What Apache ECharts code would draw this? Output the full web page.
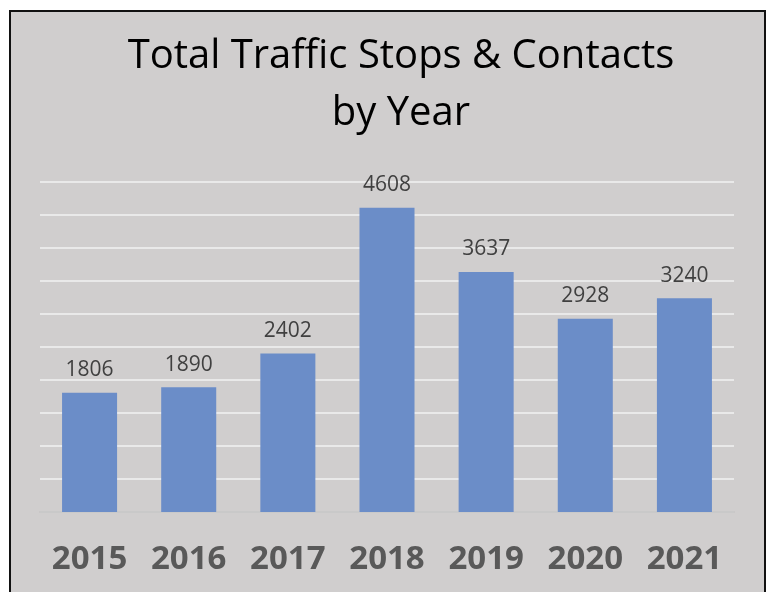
<!DOCTYPE html>
<html>
<head>
<meta charset="utf-8">
<script src="https://cdn.jsdelivr.net/npm/echarts@6/dist/echarts.min.js"></script>
<style>
  html, body { margin: 0; padding: 0; background: #fff; overflow: hidden; }
  #frame {
    position: absolute; left: 9px; top: 10px; width: 757px; height: 620px;
    box-sizing: border-box; border: 2px solid #111; background: #d0cece;
  }
  #main { width: 753px; height: 580px; }
</style>
</head>
<body>
<div id="frame"><div id="main"></div></div>
<script>
// values
const years = ['2015', '2016', '2017', '2018', '2019', '2020', '2021'];
const stops = [1806, 1890, 2402, 4608, 3637, 2928, 3240];

const chart = echarts.init(document.getElementById('main'));
chart.setOption({
  backgroundColor: 'transparent',
  title: {
    text: 'Total Traffic Stops & Contacts\nby Year',
    left: 385,
    textAlign: 'center',
    top: 11,
    textStyle: {
      fontFamily: 'Open Sans',
      fontWeight: 'normal',
      fontSize: 40,
      lineHeight: 57,
      color: '#000'
    }
  },
  grid: { left: 29, right: 30, top: 170, height: 330 },
  xAxis: {
    type: 'category',
    data: years,
    axisTick: { show: false },
    axisLine: { lineStyle: { color: '#bfbfbf', width: 1.5 } },
    axisLabel: {
      margin: 31,
      fontFamily: 'Open Sans',
      fontWeight: 'bold',
      fontSize: 33,
      color: '#595959'
    }
  },
  yAxis: {
    type: 'value',
    min: 0,
    max: 5000,
    interval: 500,
    axisLabel: { show: false },
    axisLine: { show: false },
    axisTick: { show: false },
    splitLine: { lineStyle: { color: '#f2f2f2', width: 1.5 } }
  },
  series: [{
    type: 'bar',
    data: stops,
    barWidth: '55.5%',
    itemStyle: { color: '#6b8dc8' },
    label: {
      show: true,
      position: 'top',
      distance: 12,
      fontFamily: 'Open Sans',
      fontSize: 21,
      color: '#404040'
    }
  }]
});
</script>
</body>
</html>
